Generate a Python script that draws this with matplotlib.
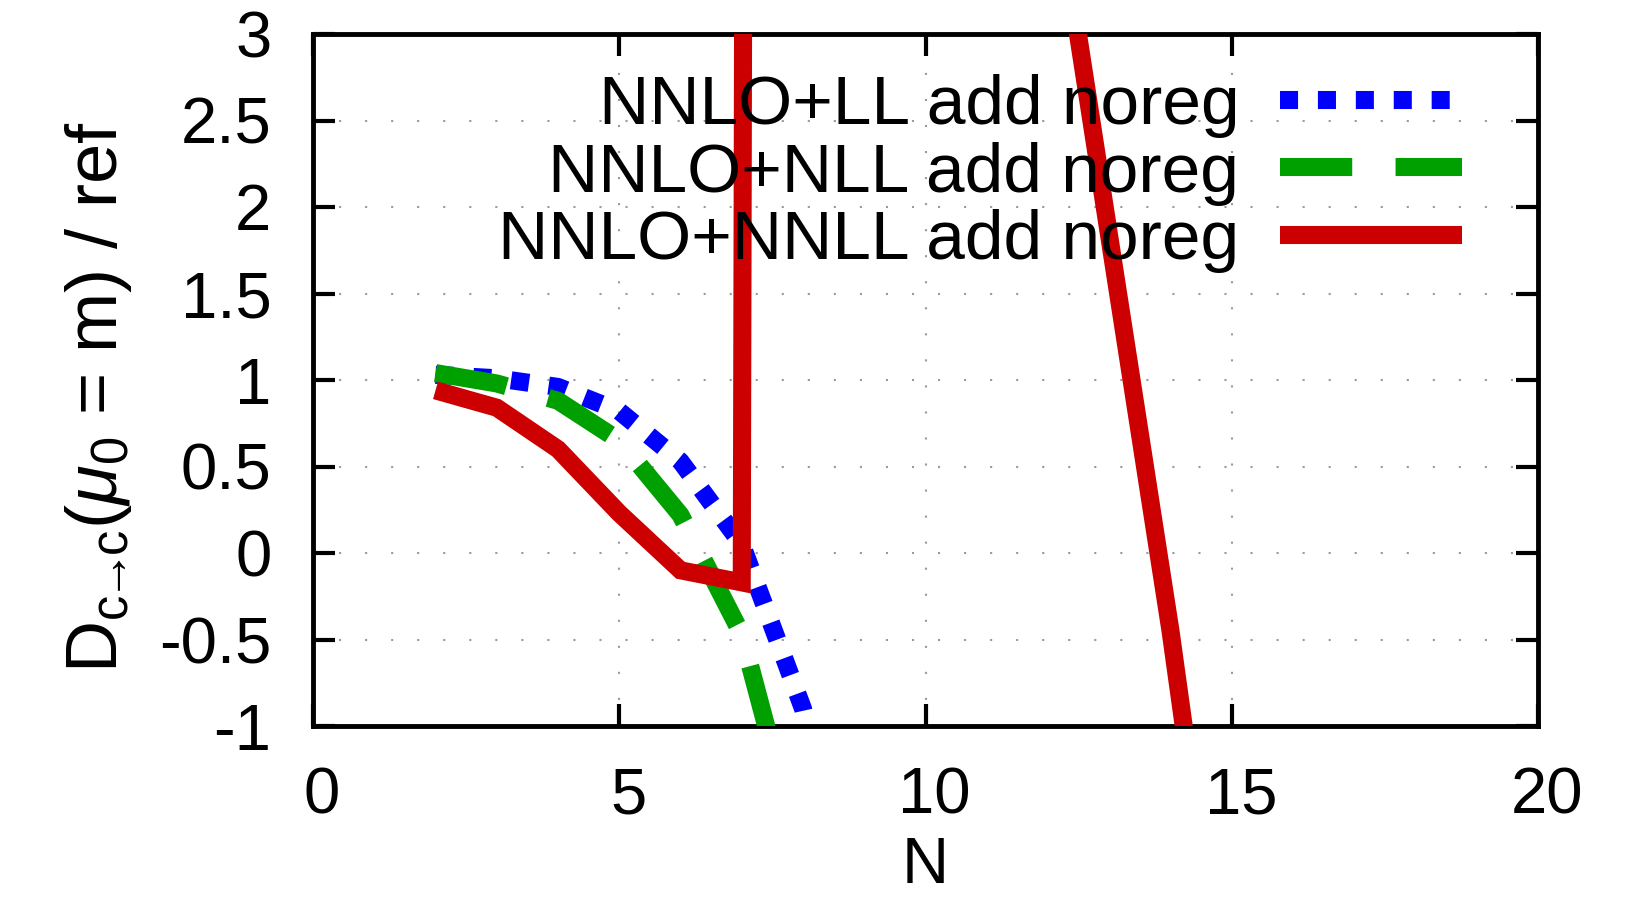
import matplotlib
matplotlib.use("Agg")
import matplotlib.pyplot as plt
import matplotlib.transforms as mtransforms
import numpy as np

plt.rcParams['font.family'] = ['Liberation Sans', 'DejaVu Sans']
plt.rcParams['mathtext.fontset'] = 'custom'
plt.rcParams['mathtext.rm'] = 'Liberation Sans'
plt.rcParams['mathtext.it'] = 'Liberation Sans:italic'
plt.rcParams['mathtext.sf'] = 'Liberation Sans'

# Data
N_ll = [2, 3, 4, 5, 6, 7, 8, 9]
y_ll = [1.03, 1.01, 0.96, 0.82, 0.53, 0.05, -0.90, -2.5]
N_nll = [2, 3, 4, 5, 6, 7, 8]
y_nll = [1.04, 0.98, 0.88, 0.65, 0.22, -0.47, -1.80]
N_nnll = [2, 3, 4, 5, 6, 7, 8, 9, 10, 11, 12, 13, 14, 15]
y_nnll = [0.94, 0.84, 0.60, 0.23, -0.10, -0.17, 150.0, 60.0, 25.0, 10.0, 4.12, 1.83, -0.45, -3.0]

labels = ["NNLO+LL add noreg", "NNLO+NLL add noreg", "NNLO+NNLL add noreg"]
colors = ["#0000ff", "#00a000", "#cc0000"]
xticks = [0, 5, 10, 15, 20]
yticks = [-1, -0.5, 0, 0.5, 1, 1.5, 2, 2.5, 3]
ytick_labels = ["-1", "-0.5", "0", "0.5", "1", "1.5", "2", "2.5", "3"]

W, H = 1630, 901
fig = plt.figure(figsize=(W / 100, H / 100), dpi=100)
ax = fig.add_axes([313 / W, 1 - 726 / H, (1538 - 313) / W, (726 - 34) / H])

lw = 13
ax.plot(N_ll, y_ll, color=colors[0], lw=lw, linestyle=(0, (1, 1.1)),
        dash_capstyle='butt', solid_joinstyle='miter', label=labels[0], zorder=3)
ax.plot(N_nll, y_nll, color=colors[1], lw=lw, linestyle=(0, (4, 2.4)),
        dash_capstyle='butt', label=labels[1], zorder=3)
ax.plot(N_nnll, y_nnll, color=colors[2], lw=lw, linestyle='-',
        solid_capstyle='butt', solid_joinstyle='miter', label=labels[2], zorder=3)

ax.set_xlim(0, 20)
ax.set_ylim(-1, 3)
ax.set_xticks(xticks)
ax.set_xticklabels([str(v) for v in xticks])
ax.set_yticks(yticks)
ax.set_yticklabels(ytick_labels)

fs = 47
ax.tick_params(axis='both', which='major', direction='in', length=16, width=3,
               top=True, right=True, labelsize=fs, colors='black')
ax.tick_params(axis='x', pad=29)
ax.tick_params(axis='y', pad=30)
offset = mtransforms.ScaledTranslation(9 / 100, 0, fig.dpi_scale_trans)
for lab in ax.get_xticklabels():
    lab.set_transform(lab.get_transform() + offset)
for s in ax.spines.values():
    s.set_linewidth(3.5)
    s.set_color('black')

ax.grid(True, color='#9a9a9a', linewidth=1.5, linestyle=(0, (1, 11.5)))
ax.set_axisbelow(True)

ax.set_xlabel("N", fontsize=fs, labelpad=7)
ax.set_ylabel(r"D$_{\mathrm{c}\!\!\rightarrow\!\!\mathrm{c}}$($\mu_0$ = m) / ref",
              fontsize=52, labelpad=18)
ax.yaxis.label.set_y(0.475)

lfs = 50
leg = ax.legend(loc='upper right', bbox_to_anchor=(0.938, 0.942), fontsize=lfs,
                frameon=False, markerfirst=False, handlelength=2.62,
                handletextpad=0.59, labelspacing=0.05, borderpad=0, borderaxespad=0)
for t in leg.get_texts():
    t.set_color('black')

fig.savefig("out.png", dpi=100)
